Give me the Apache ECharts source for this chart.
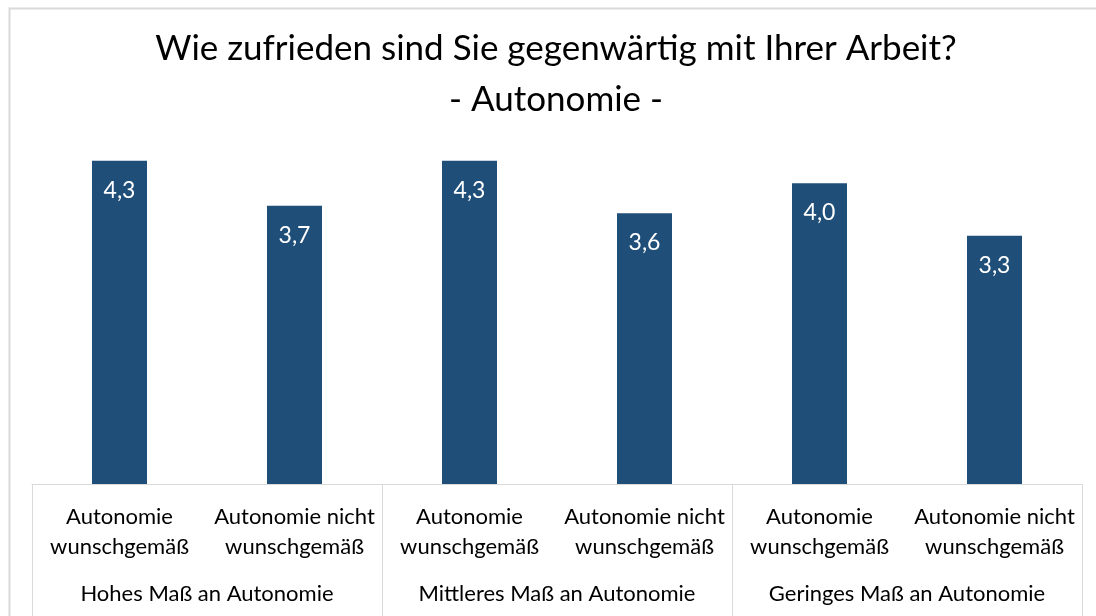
<!DOCTYPE html>
<html>
<head>
<meta charset="utf-8">
<script src="https://cdn.jsdelivr.net/npm/echarts@6/dist/echarts.min.js"></script>
<style>
  html, body { margin: 0; padding: 0; background: #fff; }
  #chart { width: 1096px; height: 616px; }
</style>
</head>
<body>
<div id="chart"></div>
<script>
const categories = [
  'Autonomie\nwunschgemäß', 'Autonomie nicht\nwunschgemäß',
  'Autonomie\nwunschgemäß', 'Autonomie nicht\nwunschgemäß',
  'Autonomie\nwunschgemäß', 'Autonomie nicht\nwunschgemäß'
];
const groups = ['Hohes Maß an Autonomie', 'Mittleres Maß an Autonomie', 'Geringes Maß an Autonomie'];
const values = [4.3, 3.7, 4.3, 3.6, 4.0, 3.3];

const fontFamily = 'Lato, "Open Sans", sans-serif';
const lineColor = '#d9d9d9';

var dom = document.getElementById('chart');
var myChart = echarts.init(dom, null, { renderer: 'canvas' });

var option = {
  animation: false,
  textStyle: { fontFamily: fontFamily },
  title: {
    text: 'Wie zufrieden sind Sie gegenwärtig mit Ihrer Arbeit?\n- Autonomie -',
    left: 556,
    textAlign: 'center',
    top: 23,
    padding: 0,
    textStyle: { fontSize: 35, fontWeight: 'normal', color: '#000', lineHeight: 51, fontFamily: fontFamily }
  },
  graphic: [{
    type: 'rect',
    shape: { x: 9.5, y: 8.5, width: 1200, height: 700 },
    style: { fill: 'none', stroke: lineColor, lineWidth: 2 },
    silent: true
  }],
  grid: { left: 32, right: 14, top: 108, bottom: 132 },
  xAxis: [{
    type: 'category',
    data: categories,
    axisLine: { show: true, lineStyle: { color: lineColor, width: 1 } },
    axisTick: { show: false },
    axisLabel: { interval: 0, fontSize: 22, color: '#000', lineHeight: 30, margin: 18, fontFamily: fontFamily }
  }, {
    type: 'category',
    data: groups,
    position: 'bottom',
    axisLine: { show: false },
    axisTick: { show: true, length: 140, lineStyle: { color: lineColor, width: 1 } },
    axisLabel: { interval: 0, fontSize: 22, color: '#000', margin: 99, fontFamily: fontFamily }
  }],
  yAxis: {
    type: 'value',
    min: 0,
    max: 5,
    show: false,
    splitLine: { show: false }
  },
  series: [{
    type: 'bar',
    data: values,
    barWidth: 55,
    itemStyle: { color: '#1F4E79' },
    label: {
      show: true,
      position: 'insideTop',
      distance: 18,
      color: '#fff',
      fontSize: 23,
      fontFamily: fontFamily,
      formatter: function (p) { return p.value.toFixed(1).replace('.', ','); }
    }
  }]
};

myChart.setOption(option);
window.addEventListener('resize', myChart.resize);
</script>
</body>
</html>
